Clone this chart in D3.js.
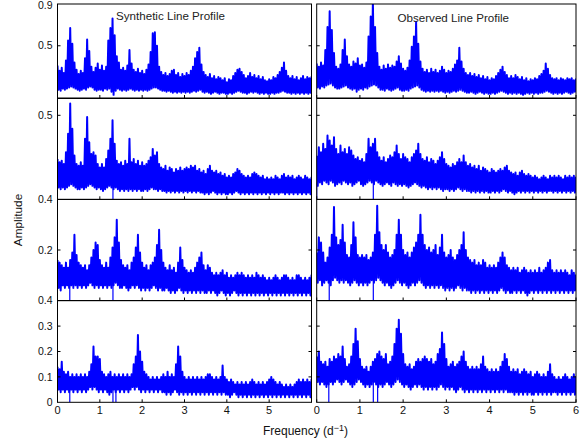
<!DOCTYPE html>
<html>
<head>
<meta charset="utf-8">
<script src="https://cdn.jsdelivr.net/npm/d3@7"></script>
<style>
  body { margin: 0; background: #fff; }
  text { font-family: "Liberation Sans", Arial, sans-serif; fill: #111; }
</style>
</head>
<body>
<div id="chart"></div>
<script>
// frequency grid step (d^-1), values every 0.05 from 0 to 6
const freqStep = 0.05
const xTicksLeft = [0, 1, 2, 3, 4, 5]
const xTicksRight = [0, 1, 2, 3, 4, 5, 6]
const rowDomains = [[0, 0.9], [0, 0.6], [0, 0.4], [0, 0.4]]
const rowTicks = [[0.5, 0.9], [0.5], [0.2, 0.4], [0, 0.1, 0.2, 0.3, 0.4]]
const titles = ["Synthetic Line Profile", "Observed Line Profile"]

// ---- synthetic profile, upper / lower envelope per row ----
const synHi1 = [0.31,0.26,0.29,0.24,0.36,0.55,0.67,0.52,0.34,0.27,
  0.23,0.26,0.24,0.38,0.56,0.45,0.30,0.25,0.29,0.33,
  0.27,0.31,0.26,0.30,0.55,0.67,0.76,0.60,0.40,0.34,
  0.27,0.29,0.26,0.31,0.46,0.33,0.27,0.25,0.28,0.24,
  0.26,0.23,0.27,0.32,0.44,0.62,0.63,0.50,0.30,0.25,
  0.22,0.24,0.21,0.23,0.26,0.27,0.22,0.24,0.20,0.23,
  0.21,0.24,0.22,0.26,0.30,0.38,0.44,0.48,0.32,0.25,
  0.22,0.20,0.23,0.19,0.21,0.18,0.20,0.19,0.17,0.19,
  0.15,0.18,0.17,0.21,0.24,0.27,0.28,0.25,0.22,0.19,
  0.21,0.24,0.20,0.22,0.19,0.21,0.18,0.20,0.17,0.16,
  0.18,0.17,0.20,0.19,0.22,0.25,0.29,0.34,0.26,0.21,
  0.19,0.21,0.18,0.20,0.17,0.19,0.21,0.18,0.20,0.19,
  0.20]
const synLo1 = [0.08,0.07,0.09,0.08,0.09,0.10,0.11,0.10,0.09,0.08,
  0.07,0.08,0.09,0.08,0.10,0.11,0.10,0.08,0.07,0.08,
  0.08,0.07,0.09,0.08,0.09,0.06,0.03,0.07,0.09,0.08,
  0.07,0.08,0.07,0.08,0.09,0.08,0.07,0.08,0.07,0.08,
  0.07,0.08,0.07,0.08,0.09,0.10,0.10,0.09,0.08,0.07,
  0.07,0.06,0.07,0.06,0.05,0.06,0.05,0.06,0.05,0.06,
  0.05,0.06,0.05,0.06,0.07,0.06,0.07,0.08,0.06,0.05,
  0.06,0.05,0.04,0.05,0.06,0.05,0.04,0.05,0.05,0.04,
  0.04,0.05,0.04,0.05,0.06,0.07,0.06,0.05,0.05,0.04,
  0.05,0.06,0.05,0.06,0.05,0.04,0.05,0.04,0.05,0.04,
  0.04,0.05,0.04,0.05,0.05,0.06,0.07,0.06,0.05,0.05,
  0.04,0.05,0.04,0.05,0.04,0.05,0.04,0.05,0.04,0.05,
  0.05]
const synHi2 = [0.24,0.22,0.23,0.21,0.28,0.39,0.57,0.42,0.26,0.21,
  0.20,0.22,0.20,0.36,0.49,0.34,0.27,0.28,0.26,0.21,
  0.19,0.21,0.19,0.24,0.29,0.36,0.47,0.33,0.23,0.21,
  0.22,0.20,0.23,0.21,0.36,0.22,0.24,0.21,0.23,0.20,
  0.22,0.20,0.21,0.23,0.25,0.30,0.26,0.28,0.21,0.19,
  0.18,0.20,0.17,0.19,0.18,0.16,0.18,0.17,0.19,0.17,
  0.18,0.19,0.18,0.20,0.19,0.20,0.17,0.18,0.16,0.17,
  0.15,0.18,0.20,0.17,0.16,0.17,0.15,0.16,0.14,0.15,
  0.13,0.14,0.13,0.15,0.16,0.18,0.17,0.15,0.14,0.13,
  0.14,0.13,0.15,0.16,0.15,0.14,0.13,0.14,0.12,0.13,
  0.12,0.13,0.12,0.14,0.13,0.12,0.14,0.15,0.13,0.14,
  0.13,0.14,0.12,0.13,0.14,0.13,0.12,0.14,0.13,0.12,
  0.13]
const synLo2 = [0.07,0.06,0.07,0.06,0.07,0.08,0.09,0.08,0.07,0.06,
  0.06,0.07,0.06,0.07,0.08,0.09,0.08,0.07,0.06,0.07,
  0.06,0.05,0.06,0.07,0.08,0.07,0.06,0.07,0.06,0.05,
  0.06,0.05,0.06,0.05,0.06,0.05,0.06,0.05,0.06,0.05,
  0.05,0.06,0.05,0.06,0.07,0.06,0.06,0.05,0.06,0.05,
  0.05,0.04,0.05,0.04,0.05,0.04,0.05,0.04,0.05,0.04,
  0.05,0.04,0.05,0.04,0.05,0.04,0.05,0.04,0.04,0.03,
  0.04,0.03,0.04,0.05,0.04,0.03,0.04,0.03,0.04,0.03,
  0.03,0.04,0.03,0.04,0.05,0.04,0.03,0.04,0.03,0.04,
  0.03,0.04,0.03,0.04,0.03,0.04,0.03,0.04,0.03,0.04,
  0.03,0.04,0.03,0.04,0.03,0.04,0.04,0.03,0.04,0.03,
  0.04,0.03,0.04,0.03,0.04,0.03,0.04,0.03,0.04,0.03,
  0.04]
const synHi3 = [0.16,0.15,0.14,0.13,0.15,0.13,0.16,0.19,0.26,0.18,
  0.15,0.14,0.13,0.14,0.12,0.14,0.17,0.20,0.23,0.22,
  0.16,0.14,0.13,0.15,0.13,0.17,0.21,0.25,0.32,0.23,
  0.16,0.14,0.13,0.14,0.12,0.15,0.17,0.21,0.26,0.19,
  0.15,0.13,0.14,0.12,0.14,0.15,0.17,0.22,0.28,0.20,
  0.15,0.13,0.12,0.14,0.12,0.13,0.11,0.15,0.21,0.16,
  0.13,0.12,0.11,0.12,0.11,0.13,0.15,0.17,0.19,0.14,
  0.12,0.14,0.13,0.11,0.10,0.11,0.10,0.11,0.12,0.10,
  0.11,0.09,0.10,0.09,0.10,0.11,0.10,0.11,0.10,0.09,
  0.10,0.09,0.10,0.09,0.11,0.10,0.09,0.10,0.09,0.08,
  0.09,0.08,0.09,0.10,0.09,0.08,0.09,0.10,0.10,0.09,
  0.08,0.09,0.08,0.10,0.10,0.09,0.08,0.09,0.08,0.09,
  0.10]
const synLo3 = [0.05,0.04,0.06,0.05,0.06,0.05,0.06,0.05,0.06,0.05,
  0.06,0.05,0.06,0.05,0.06,0.07,0.06,0.05,0.06,0.05,
  0.06,0.05,0.06,0.05,0.06,0.05,0.06,0.07,0.06,0.05,
  0.05,0.06,0.05,0.04,0.05,0.06,0.05,0.06,0.05,0.04,
  0.05,0.04,0.05,0.04,0.05,0.06,0.05,0.04,0.05,0.04,
  0.04,0.05,0.04,0.03,0.04,0.03,0.04,0.05,0.04,0.03,
  0.04,0.03,0.04,0.03,0.04,0.03,0.04,0.03,0.04,0.03,
  0.03,0.04,0.03,0.04,0.03,0.02,0.03,0.04,0.03,0.02,
  0.03,0.02,0.03,0.04,0.03,0.02,0.03,0.02,0.03,0.02,
  0.03,0.02,0.03,0.02,0.03,0.02,0.03,0.02,0.03,0.02,
  0.03,0.02,0.03,0.02,0.03,0.02,0.03,0.02,0.03,0.02,
  0.03,0.02,0.03,0.02,0.03,0.02,0.03,0.02,0.03,0.02,
  0.03]
const synHi4 = [0.14,0.13,0.16,0.12,0.11,0.12,0.10,0.11,0.10,0.11,
  0.10,0.11,0.10,0.11,0.10,0.12,0.15,0.22,0.18,0.18,
  0.17,0.12,0.11,0.10,0.11,0.12,0.10,0.11,0.10,0.11,
  0.10,0.11,0.10,0.11,0.10,0.11,0.15,0.18,0.265,0.20,
  0.16,0.12,0.11,0.10,0.09,0.10,0.09,0.10,0.09,0.10,
  0.11,0.10,0.12,0.10,0.11,0.10,0.15,0.22,0.18,0.12,
  0.10,0.09,0.10,0.09,0.10,0.09,0.10,0.09,0.10,0.09,
  0.10,0.11,0.11,0.10,0.09,0.10,0.09,0.10,0.145,0.10,
  0.09,0.08,0.09,0.08,0.07,0.08,0.07,0.08,0.07,0.08,
  0.07,0.08,0.09,0.08,0.07,0.08,0.07,0.08,0.07,0.08,
  0.09,0.10,0.09,0.08,0.07,0.08,0.07,0.06,0.07,0.06,
  0.07,0.06,0.07,0.08,0.09,0.08,0.09,0.08,0.09,0.08,
  0.09]
const synLo4 = [0.05,0.04,0.05,0.04,0.05,0.04,0.05,0.04,0.05,0.04,
  0.05,0.04,0.05,0.04,0.05,0.06,0.05,0.06,0.05,0.04,
  0.05,0.04,0.05,0.04,0.03,0.04,0.05,0.04,0.05,0.04,
  0.05,0.04,0.05,0.04,0.05,0.06,0.05,0.06,0.05,0.04,
  0.05,0.04,0.05,0.04,0.05,0.04,0.05,0.04,0.05,0.04,
  0.04,0.03,0.04,0.03,0.04,0.05,0.04,0.03,0.04,0.03,
  0.04,0.03,0.04,0.03,0.04,0.03,0.04,0.03,0.04,0.03,
  0.04,0.03,0.04,0.03,0.04,0.03,0.04,0.03,0.04,0.03,
  0.03,0.02,0.03,0.04,0.03,0.02,0.03,0.02,0.03,0.02,
  0.03,0.02,0.03,0.02,0.03,0.02,0.03,0.02,0.03,0.02,
  0.03,0.02,0.03,0.02,0.03,0.02,0.03,0.02,0.03,0.02,
  0.03,0.02,0.03,0.02,0.03,0.02,0.03,0.02,0.03,0.02,
  0.03]

// ---- observed profile ----
const obsHi1 = [0.33,0.30,0.34,0.31,0.46,0.68,0.83,0.65,0.43,0.30,
  0.28,0.32,0.46,0.56,0.40,0.32,0.30,0.35,0.33,0.38,
  0.31,0.32,0.29,0.34,0.59,0.78,0.93,0.68,0.43,0.30,
  0.27,0.31,0.28,0.32,0.29,0.31,0.30,0.35,0.40,0.33,
  0.28,0.26,0.29,0.36,0.49,0.59,0.73,0.52,0.35,0.28,
  0.25,0.27,0.24,0.28,0.25,0.27,0.24,0.26,0.30,0.27,
  0.24,0.26,0.25,0.28,0.32,0.36,0.48,0.35,0.28,0.24,
  0.22,0.24,0.21,0.23,0.20,0.22,0.19,0.21,0.18,0.20,
  0.17,0.19,0.18,0.21,0.24,0.27,0.30,0.25,0.22,0.19,
  0.21,0.19,0.22,0.20,0.18,0.20,0.17,0.19,0.16,0.18,
  0.17,0.19,0.18,0.21,0.23,0.26,0.33,0.28,0.22,0.19,
  0.18,0.19,0.17,0.19,0.18,0.17,0.19,0.18,0.19,0.17,
  0.18]
const obsLo1 = [0.10,0.09,0.11,0.10,0.12,0.13,0.14,0.12,0.10,0.09,
  0.09,0.10,0.11,0.12,0.10,0.09,0.08,0.09,0.06,0.08,
  0.09,0.08,0.10,0.09,0.11,0.12,0.13,0.12,0.10,0.08,
  0.08,0.07,0.09,0.08,0.07,0.08,0.09,0.10,0.08,0.07,
  0.07,0.08,0.07,0.09,0.10,0.11,0.12,0.10,0.08,0.07,
  0.06,0.07,0.06,0.07,0.06,0.07,0.06,0.07,0.06,0.05,
  0.06,0.05,0.06,0.07,0.06,0.07,0.08,0.07,0.06,0.05,
  0.05,0.06,0.05,0.04,0.05,0.06,0.05,0.04,0.05,0.04,
  0.04,0.05,0.04,0.05,0.06,0.07,0.06,0.05,0.04,0.05,
  0.04,0.05,0.04,0.05,0.04,0.03,0.04,0.05,0.04,0.05,
  0.04,0.05,0.04,0.05,0.05,0.06,0.07,0.06,0.05,0.04,
  0.05,0.04,0.05,0.04,0.05,0.06,0.05,0.04,0.05,0.06,
  0.05]
const obsHi2 = [0.26,0.31,0.28,0.33,0.30,0.38,0.35,0.32,0.37,0.30,
  0.27,0.32,0.28,0.30,0.27,0.31,0.29,0.26,0.24,0.25,
  0.23,0.24,0.22,0.27,0.36,0.31,0.33,0.36,0.28,0.25,
  0.23,0.25,0.22,0.24,0.26,0.25,0.28,0.32,0.27,0.24,
  0.27,0.25,0.24,0.22,0.25,0.27,0.29,0.33,0.27,0.24,
  0.23,0.25,0.22,0.24,0.23,0.21,0.23,0.25,0.28,0.24,
  0.21,0.20,0.19,0.21,0.20,0.22,0.24,0.22,0.26,0.22,
  0.20,0.21,0.19,0.20,0.18,0.20,0.17,0.19,0.18,0.17,
  0.16,0.18,0.17,0.16,0.17,0.18,0.17,0.19,0.20,0.17,
  0.16,0.15,0.16,0.14,0.16,0.17,0.15,0.14,0.15,0.14,
  0.13,0.14,0.13,0.12,0.13,0.14,0.13,0.12,0.14,0.13,
  0.14,0.13,0.14,0.13,0.12,0.14,0.13,0.14,0.13,0.14,
  0.13]
const obsLo2 = [0.08,0.10,0.09,0.11,0.10,0.09,0.11,0.10,0.08,0.09,
  0.10,0.09,0.11,0.10,0.09,0.10,0.08,0.09,0.10,0.11,
  0.09,0.08,0.09,0.10,0.11,0.10,0.09,0.11,0.10,0.09,
  0.08,0.09,0.10,0.09,0.08,0.10,0.09,0.08,0.09,0.08,
  0.09,0.08,0.07,0.08,0.09,0.10,0.09,0.08,0.07,0.08,
  0.07,0.06,0.07,0.06,0.07,0.06,0.07,0.06,0.05,0.06,
  0.06,0.05,0.06,0.05,0.06,0.07,0.06,0.05,0.06,0.05,
  0.05,0.04,0.05,0.04,0.05,0.04,0.05,0.04,0.05,0.04,
  0.04,0.05,0.04,0.05,0.04,0.05,0.06,0.05,0.04,0.05,
  0.04,0.03,0.04,0.05,0.04,0.05,0.04,0.05,0.04,0.05,
  0.04,0.05,0.04,0.05,0.04,0.05,0.04,0.05,0.05,0.04,
  0.05,0.04,0.05,0.04,0.05,0.04,0.05,0.04,0.05,0.04,
  0.05]
const obsHi3 = [0.19,0.25,0.23,0.19,0.15,0.17,0.21,0.26,0.37,0.25,
  0.22,0.24,0.30,0.23,0.18,0.17,0.22,0.31,0.25,0.18,
  0.17,0.18,0.17,0.18,0.16,0.17,0.19,0.26,0.375,0.27,
  0.22,0.20,0.22,0.19,0.17,0.18,0.20,0.26,0.32,0.26,
  0.20,0.18,0.19,0.17,0.19,0.21,0.23,0.26,0.34,0.26,
  0.22,0.20,0.21,0.19,0.20,0.22,0.18,0.21,0.26,0.19,
  0.17,0.18,0.20,0.17,0.16,0.18,0.20,0.22,0.27,0.20,
  0.17,0.16,0.15,0.16,0.14,0.15,0.14,0.16,0.15,0.13,
  0.14,0.13,0.14,0.13,0.15,0.17,0.19,0.17,0.14,0.13,
  0.12,0.13,0.12,0.13,0.11,0.12,0.13,0.12,0.11,0.12,
  0.11,0.12,0.11,0.13,0.11,0.12,0.13,0.15,0.16,0.12,
  0.11,0.12,0.11,0.12,0.11,0.12,0.11,0.10,0.12,0.11,
  0.10]
const obsLo3 = [0.07,0.08,0.06,0.07,0.08,0.07,0.06,0.08,0.09,0.08,
  0.07,0.08,0.07,0.08,0.07,0.06,0.07,0.08,0.07,0.06,
  0.07,0.06,0.07,0.06,0.07,0.08,0.07,0.08,0.09,0.08,
  0.07,0.06,0.07,0.06,0.05,0.06,0.07,0.08,0.07,0.06,
  0.07,0.06,0.05,0.06,0.07,0.06,0.07,0.08,0.07,0.06,
  0.05,0.06,0.05,0.06,0.05,0.06,0.05,0.06,0.05,0.04,
  0.05,0.04,0.05,0.04,0.05,0.06,0.05,0.04,0.05,0.04,
  0.04,0.03,0.04,0.03,0.04,0.03,0.04,0.03,0.04,0.03,
  0.04,0.03,0.04,0.03,0.04,0.05,0.04,0.03,0.04,0.03,
  0.03,0.04,0.03,0.04,0.03,0.04,0.03,0.02,0.03,0.04,
  0.03,0.04,0.03,0.04,0.03,0.04,0.03,0.04,0.03,0.04,
  0.03,0.04,0.03,0.04,0.03,0.04,0.03,0.04,0.03,0.04,
  0.04]
const obsHi4 = [0.18,0.20,0.16,0.15,0.16,0.14,0.17,0.16,0.18,0.17,
  0.19,0.18,0.22,0.17,0.14,0.15,0.18,0.23,0.29,0.24,
  0.17,0.14,0.13,0.14,0.12,0.14,0.16,0.17,0.19,0.20,
  0.18,0.17,0.19,0.15,0.16,0.18,0.23,0.29,0.325,0.27,
  0.19,0.15,0.14,0.15,0.13,0.14,0.16,0.17,0.16,0.17,
  0.18,0.17,0.16,0.17,0.15,0.16,0.19,0.21,0.275,0.23,
  0.17,0.14,0.15,0.16,0.14,0.15,0.16,0.18,0.20,0.16,
  0.14,0.13,0.14,0.13,0.14,0.13,0.15,0.18,0.14,0.13,
  0.12,0.13,0.12,0.13,0.12,0.14,0.16,0.19,0.17,0.14,
  0.12,0.13,0.12,0.13,0.11,0.12,0.13,0.12,0.11,0.12,
  0.10,0.11,0.12,0.11,0.10,0.11,0.10,0.12,0.15,0.11,
  0.10,0.09,0.10,0.09,0.10,0.11,0.10,0.09,0.10,0.11,
  0.10]
const obsLo4 = [0.08,0.07,0.08,0.07,0.06,0.07,0.08,0.07,0.08,0.09,
  0.08,0.07,0.08,0.09,0.08,0.07,0.06,0.07,0.08,0.09,
  0.08,0.07,0.06,0.07,0.06,0.07,0.08,0.07,0.06,0.07,
  0.06,0.07,0.08,0.07,0.06,0.07,0.08,0.09,0.08,0.07,
  0.06,0.07,0.06,0.05,0.06,0.07,0.06,0.07,0.06,0.05,
  0.06,0.05,0.06,0.05,0.06,0.05,0.06,0.07,0.06,0.05,
  0.06,0.05,0.06,0.05,0.04,0.05,0.06,0.05,0.04,0.05,
  0.04,0.05,0.04,0.05,0.04,0.05,0.04,0.05,0.04,0.05,
  0.04,0.05,0.04,0.05,0.04,0.05,0.04,0.05,0.04,0.04,
  0.04,0.03,0.04,0.03,0.04,0.03,0.04,0.03,0.04,0.03,
  0.03,0.04,0.03,0.04,0.03,0.04,0.03,0.04,0.03,0.04,
  0.04,0.03,0.04,0.03,0.04,0.03,0.04,0.03,0.04,0.03,
  0.04]

// narrow drops to ~0 (frequency of each dip)
const synDips = [[], [1.31], [0.29, 1.31], [0.29, 1.31, 1.38]]
const obsDips = [[], [0, 1.31], [0.29, 1.31], [0.28, 1.31, 1.41]]

const synHi = [synHi1, synHi2, synHi3, synHi4]
const synLo = [synLo1, synLo2, synLo3, synLo4]
const obsHi = [obsHi1, obsHi2, obsHi3, obsHi4]
const obsLo = [obsLo1, obsLo2, obsLo3, obsLo4]

let width = 586, height = 444
let cols = [[57.5, 311.5], [316.7, 576]]
let rows = [[4, 98], [98.5, 199.3], [199.5, 300.5], [300.7, 402.3]]

let svg = d3.select("#chart").append("svg")
  .attr("width", width)
  .attr("height", height)

let defs = svg.append("defs")

let drawPanel = (r, c, hi, lo, dips) => {
  let x = d3.scaleLinear().domain([0, 6]).range(cols[c])
  let y = d3.scaleLinear().domain(rowDomains[r]).range([rows[r][1], rows[r][0]])
  let id = "clip" + r + c

  defs.append("clipPath").attr("id", id)
    .append("rect")
    .attr("x", cols[c][0]).attr("y", rows[r][0])
    .attr("width", cols[c][1] - cols[c][0])
    .attr("height", rows[r][1] - rows[r][0])

  let g = svg.append("g").attr("clip-path", "url(#" + id + ")")

  // the dense spectrum: zig-zag from each upper value to the lower value half a step later
  let pts = []
  hi.forEach((v, i) => {
    pts.push([i * freqStep, v])
    pts.push([i * freqStep + freqStep / 2, lo[i]])
  })

  let line = d3.line()
    .x(d => x(d[0]))
    .y(d => y(d[1]))

  g.append("path")
    .datum(pts)
    .attr("d", line)
    .attr("fill", "none")
    .attr("stroke", "#0000ff")
    .attr("stroke-width", 2)
    .attr("stroke-linejoin", "round")

  // dips drawn as thin vertical lines down to zero
  g.selectAll("line.dip")
    .data(dips)
    .enter()
    .append("line")
    .attr("x1", d => x(d)).attr("x2", d => x(d))
    .attr("y1", d => y(lo[Math.round(d / freqStep)] + 0.02))
    .attr("y2", y(0))
    .attr("stroke", "#0000ff")
    .attr("stroke-width", 1.2)

  // frame
  svg.append("rect")
    .attr("x", cols[c][0]).attr("y", rows[r][0])
    .attr("width", cols[c][1] - cols[c][0])
    .attr("height", rows[r][1] - rows[r][0])
    .attr("fill", "none")
    .attr("stroke", "#000")
    .attr("stroke-width", 1)

  // x ticks (inward, bottom)
  svg.selectAll(null)
    .data(xTicksRight)
    .enter()
    .append("line")
    .attr("x1", d => x(d)).attr("x2", d => x(d))
    .attr("y1", rows[r][1]).attr("y2", rows[r][1] - 3)
    .attr("stroke", "#000")

  // y ticks (inward, both sides)
  let yt = rowTicks[r].filter(v => v > rowDomains[r][0] && v < rowDomains[r][1])
  svg.selectAll(null)
    .data(yt)
    .enter()
    .append("line")
    .attr("x1", cols[c][0]).attr("x2", cols[c][0] + 3)
    .attr("y1", d => y(d)).attr("y2", d => y(d))
    .attr("stroke", "#000")
  svg.selectAll(null)
    .data(yt)
    .enter()
    .append("line")
    .attr("x1", cols[c][1]).attr("x2", cols[c][1] - 3)
    .attr("y1", d => y(d)).attr("y2", d => y(d))
    .attr("stroke", "#000")

  if (c == 0) {
    svg.selectAll(null)
      .data(rowTicks[r])
      .enter()
      .append("text")
      .attr("x", 52.5)
      .attr("y", d => Math.max(y(d), 5))
      .attr("dy", "0.35em")
      .attr("text-anchor", "end")
      .attr("font-size", "10.5px")
      .text(d => d)
  }

  if (r == 3) {
    svg.selectAll(null)
      .data(c == 0 ? xTicksLeft : xTicksRight)
      .enter()
      .append("text")
      .attr("x", d => x(d))
      .attr("y", 414)
      .attr("text-anchor", "middle")
      .attr("font-size", "11px")
      .text(d => d)
  }
}

for (let r = 0; r < 4; r++) {
  drawPanel(r, 0, synHi[r], synLo[r], synDips[r])
  drawPanel(r, 1, obsHi[r], obsLo[r], obsDips[r])
}

svg.append("text")
  .attr("x", 170.5).attr("y", 19.5)
  .attr("text-anchor", "middle")
  .attr("font-size", "11.6px")
  .style("fill", "#222")
  .text(titles[0])

svg.append("text")
  .attr("x", 453.3).attr("y", 21.5)
  .attr("text-anchor", "middle")
  .attr("font-size", "11.6px")
  .style("fill", "#222")
  .text(titles[1])

svg.append("text")
  .attr("transform", "translate(21.5,220) rotate(-90)")
  .attr("text-anchor", "middle")
  .attr("font-size", "11.8px")
  .text("Amplitude")

let xl = svg.append("text")
  .attr("x", 305.5).attr("y", 435)
  .attr("text-anchor", "middle")
  .attr("font-size", "12px")
xl.append("tspan").text("Frequency (d")
xl.append("tspan").attr("dy", -4).attr("font-size", "9px").text("\u22121")
xl.append("tspan").attr("dy", 4).text(")")
</script>
</body>
</html>
